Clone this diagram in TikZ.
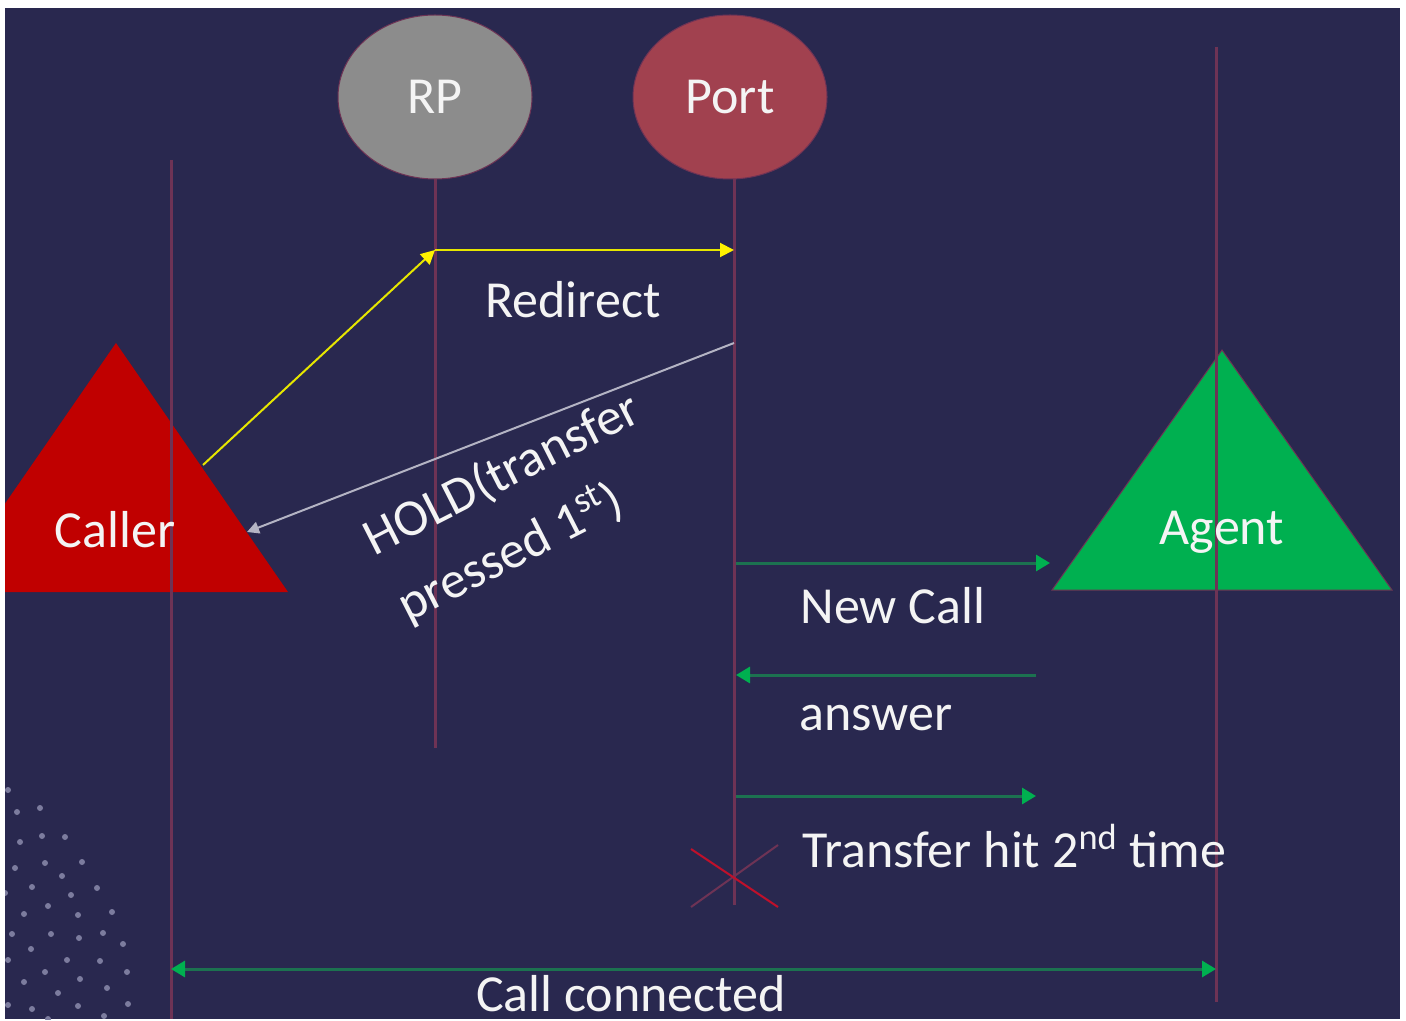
\documentclass[tikz,border=0pt]{standalone}
\usepackage{fontspec}
\setmainfont{Carlito}
\usetikzlibrary{arrows.meta,shapes.geometric}
\definecolor{bgc}{HTML}{29284F}
\definecolor{lifec}{HTML}{6E3355}
\definecolor{rpc}{HTML}{8C8C8C}
\definecolor{portc}{HTML}{A1414F}
\definecolor{callerc}{HTML}{C00000}
\definecolor{agentc}{HTML}{00B050}
\definecolor{glinec}{HTML}{1C7250}
\definecolor{dotc}{HTML}{7C7C9E}
\definecolor{yelc}{HTML}{E6E600}
\definecolor{grayc}{HTML}{B4B4C4}
\definecolor{txtc}{HTML}{F4F4F4}
\definecolor{xred}{HTML}{C0102A}
\begin{document}
\begin{tikzpicture}[x=0.5pt,y=-0.5pt,
  lbl/.style={text=txtc,font=\fontsize{26}{31}\selectfont,inner sep=0pt},
  lifeline/.style={draw=lifec,line width=1.5pt},
  yarrow/.style={draw=yelc,line width=1pt,-{Triangle[length=7pt,width=7pt,color=yellow]}},
  garrow/.style={draw=glinec,line width=1.5pt,-{Triangle[length=7pt,width=8pt,color=agentc]}},
  harrow/.style={draw=grayc,line width=1pt,-{Triangle[length=6pt,width=6pt]}},
  actor/.style={ellipse,minimum width=194pt*0.5,minimum height=164pt*0.5,draw=lifec,line width=0.5pt,text=txtc,font=\fontsize{26}{31}\selectfont}
]
\useasboundingbox[fill=white] (0,0) rectangle (1406,1021);
\fill[bgc] (5,8) rectangle (1400,1019);
\begin{scope}
\clip (5,8) rectangle (1400,1019);
% dots
\foreach \p in {(8,790),(17,812),(40,808),(20,842),(42,836),(65,837),(15,868),(45,863),(82,862),(62,876),(32,887),(5,893),(71,895),(97,888),(48,906),(24,914),(78,915),(112,912),(12,934),(51,934),(79,938),(103,933),(123,944),(31,949),(67,960),(100,961),(8,960),(45,972),(127,972),(24,982),(80,979),(107,988),(58,993),(32,1009),(78,1006),(128,1004),(48,1019),(104,1016),(8,1005)}
  \fill[dotc] \p circle (3);
% triangles
\fill[callerc] (116,343) -- (288,592) -- (-56,592) -- cycle;
\filldraw[fill=agentc,draw=lifec,line width=0.5pt] (1222,350) -- (1392,590) -- (1052,590) -- cycle;
\end{scope}
% lifelines
\coordinate (callerTop) at (171,160);
\coordinate (callerBot) at (171,1019);
\coordinate (rpTop) at (435,170);
\coordinate (rpBot) at (435,748);
\coordinate (portTop) at (734,170);
\coordinate (portBot) at (734,905);
\coordinate (agentTop) at (1216,47);
\coordinate (agentBot) at (1216,1002);
\draw[lifeline] (callerTop) -- (callerBot);
\draw[lifeline] (rpTop) -- (rpBot);
\draw[lifeline] (portTop) -- (portBot);
\draw[lifeline] (agentTop) -- (agentBot);
% actors
\node[actor,fill=rpc] (rp) at (435,97) {RP};
\node[actor,fill=portc] (port) at (730,97) {Port};
\node[lbl] (caller) at (115,530) {Caller};
\node[lbl] (agent) at (1222,532) {Agent};
% redirect
\coordinate (callerEdge) at (203,465);
\coordinate (rpA) at (435,250);
\coordinate (portA) at (734,250);
\draw[yarrow] (callerEdge) -- (rpA);
\draw[yarrow] (rpA) -- (portA);
\node[lbl] (redirect) at (573,300) {Redirect};
% hold
\coordinate (portH) at (734,343);
\coordinate (callerH) at (247,532);
\draw[harrow] (portH) -- (callerH);
\node[lbl,rotate=27,align=left,font=\fontsize{26}{37}\selectfont] (hold) at (519,508) {HOLD(transfer\\pressed 1\textsuperscript{st})};
% new call
\coordinate (portN) at (736,563);
\coordinate (agentN) at (1050,563);
\draw[garrow] (portN) -- (agentN);
\node[lbl] (newcall) at (893,606) {New Call};
\coordinate (agentA) at (1036,675);
\coordinate (portAns) at (736,675);
\draw[garrow] (agentA) -- (portAns);
\node[lbl] (answer) at (876,718) {answer};
\coordinate (portT) at (736,796);
\coordinate (agentT) at (1036,796);
\draw[garrow] (portT) -- (agentT);
\node[lbl] (transfer) at (1014,846) {Transfer hit 2\textsuperscript{nd} time};
% X
\coordinate (x1) at (691,849);
\coordinate (x2) at (778,907);
\coordinate (x3) at (691,907);
\coordinate (x4) at (778,845);
\draw[lifec,line width=1pt] (x3) -- (x4);
\draw[xred,line width=1pt] (x1) -- (x2);
% call connected
\coordinate (callerC) at (171,969);
\coordinate (agentC) at (1216,969);
\draw[draw=glinec,line width=1.5pt,{Triangle[length=7pt,width=8pt,color=agentc]}-{Triangle[length=7pt,width=8pt,color=agentc]}] (callerC) -- (agentC);
\node[lbl] (connected) at (631,994) {Call connected};
\end{tikzpicture}
\end{document}
